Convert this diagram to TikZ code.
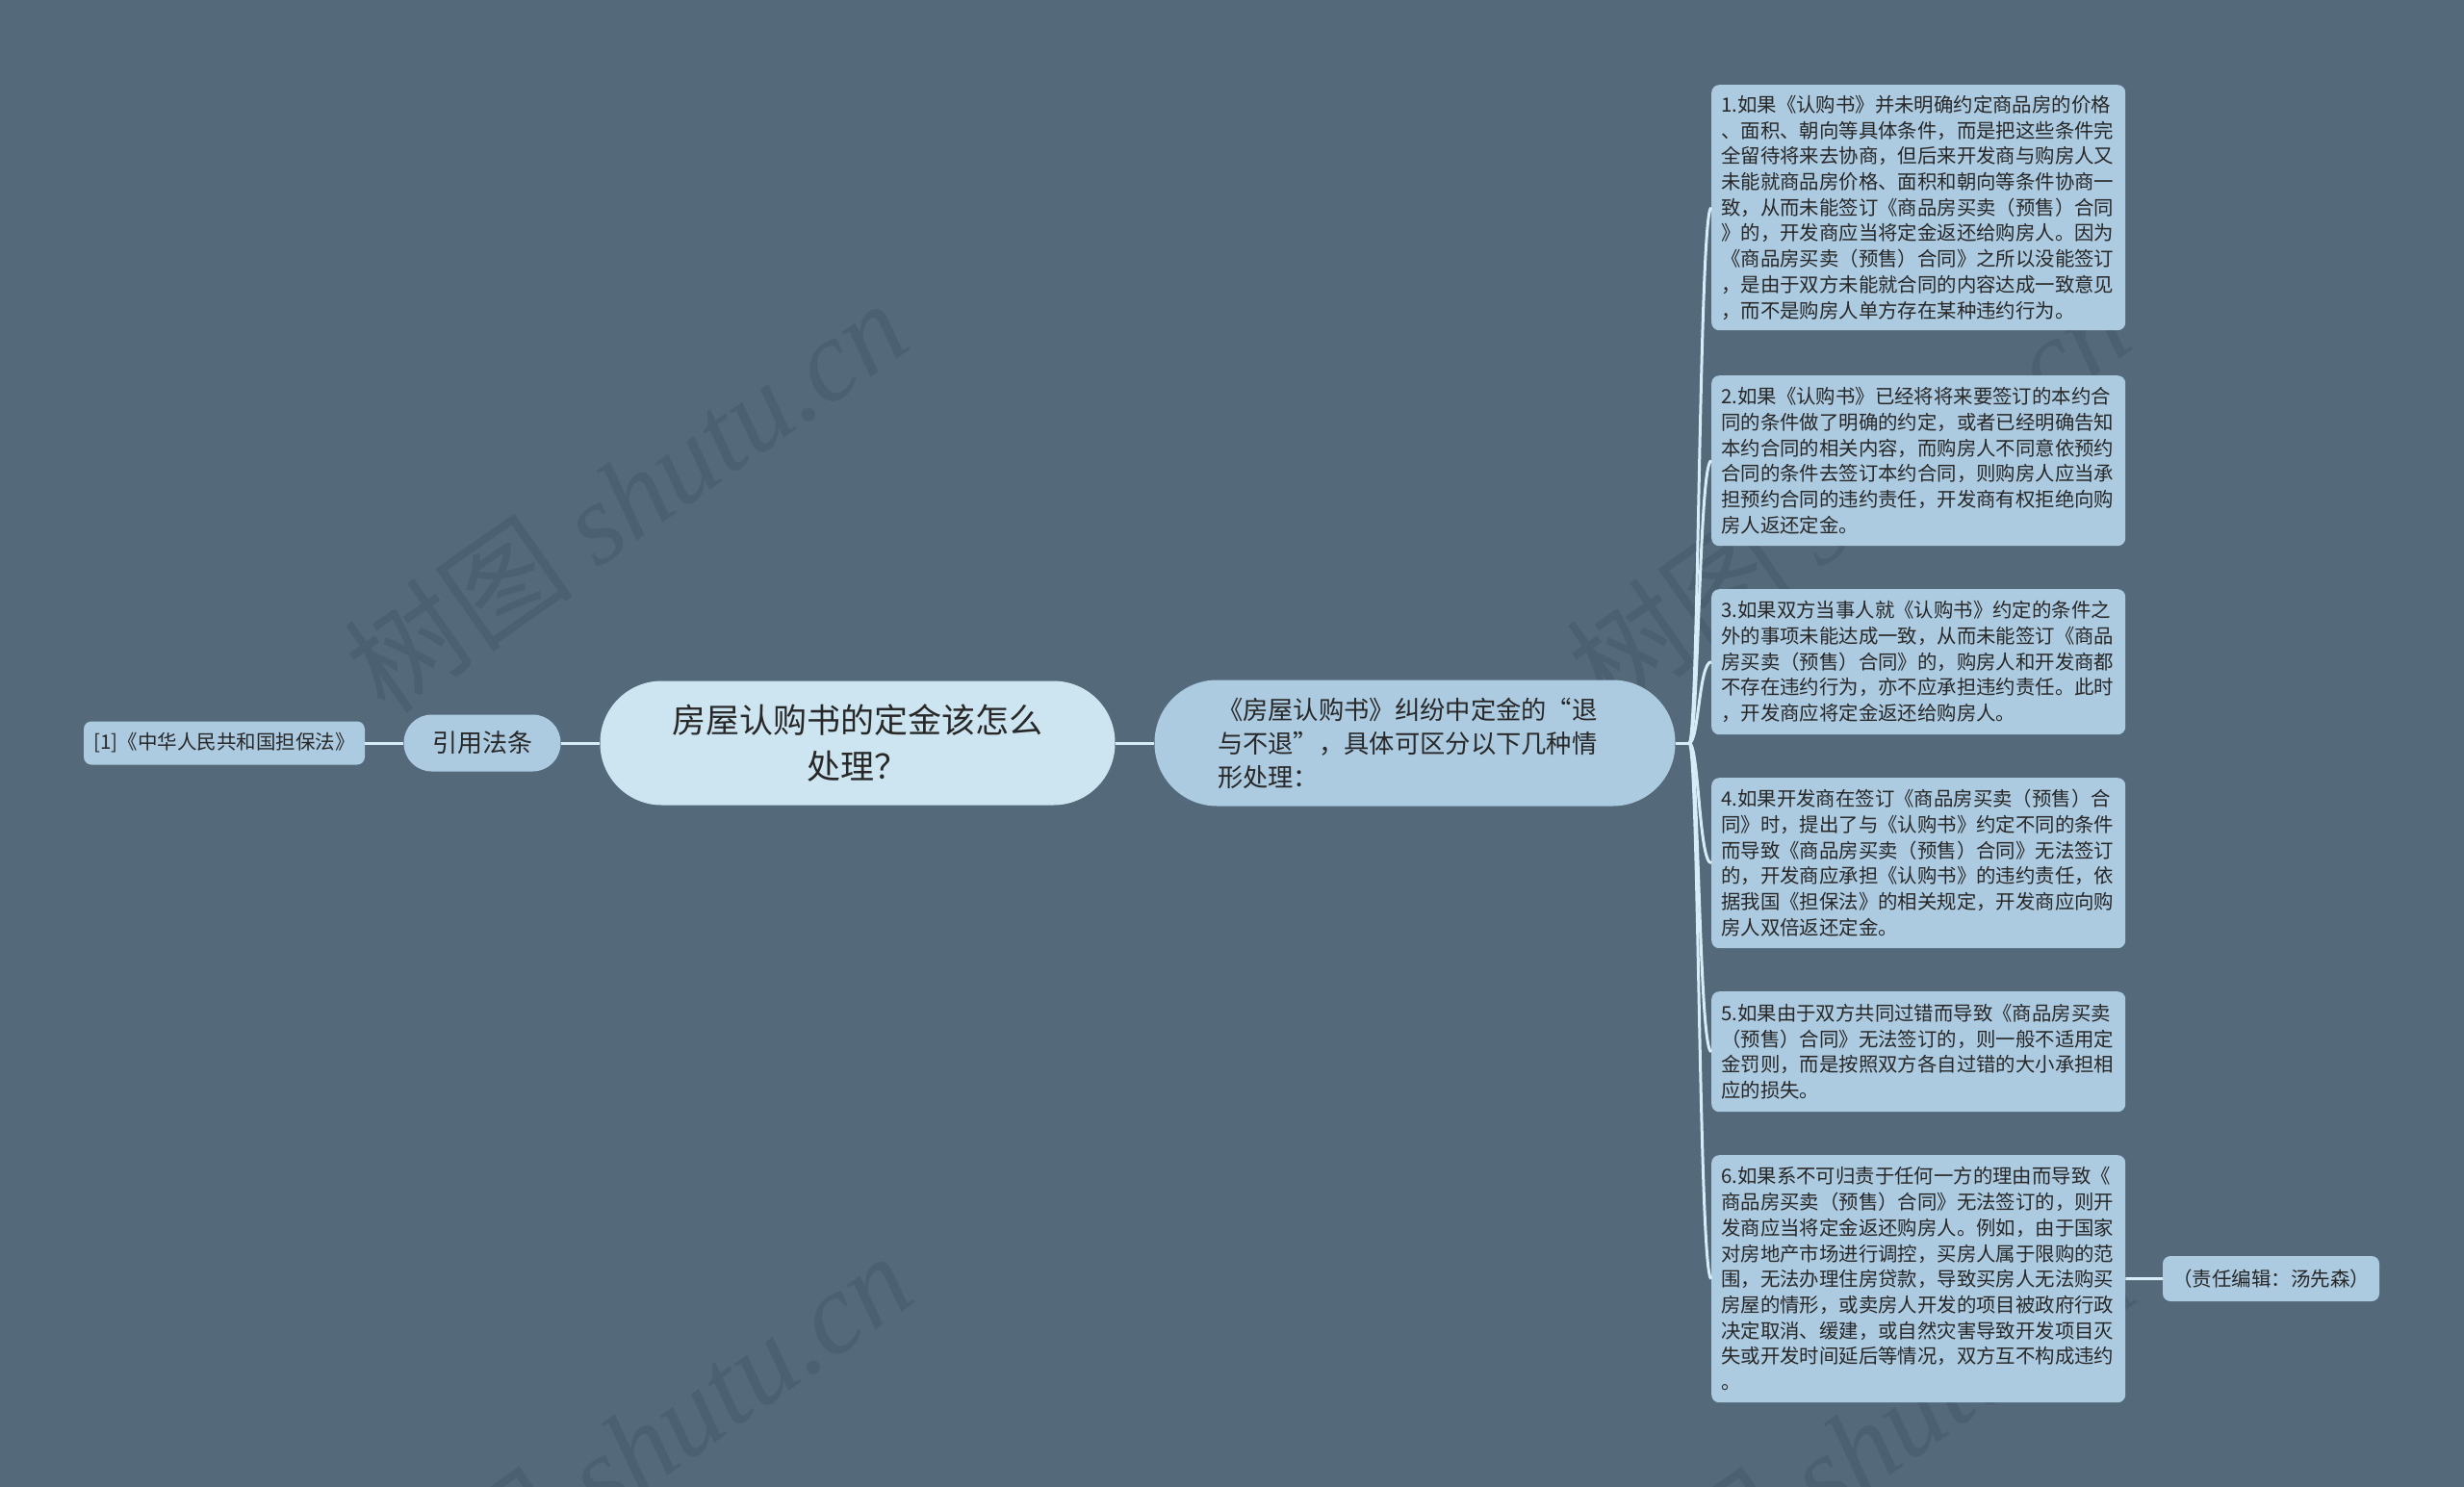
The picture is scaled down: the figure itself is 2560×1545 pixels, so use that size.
\documentclass[tikz,border=0pt]{standalone}
\usepackage{fontspec}
\setmainfont{Noto Sans CJK SC}
\newfontfamily\wmfont{Liberation Serif}
\definecolor{bgcol}{RGB}{84,106,122}
\definecolor{wmcol}{RGB}{75,96,112}
\definecolor{rootcol}{RGB}{205,229,241}
\definecolor{boxcol}{RGB}{172,202,224}
\definecolor{linecol}{RGB}{214,236,246}
\definecolor{txtcol}{RGB}{40,40,40}
\begin{document}
\begin{tikzpicture}[x=1pt,y=-1pt,
	every node/.style={text=txtcol,inner sep=0pt},
	root/.style={fill=rootcol,rounded corners=64pt,minimum width=535pt,minimum height=129pt,align=center,font=\fontsize{35}{48}\selectfont},
	topic/.style={fill=boxcol,rounded corners=65pt,minimum width=541pt,minimum height=131pt,text width=410pt,align=left,font=\fontsize{26.3}{35}\selectfont},
	tag/.style={fill=boxcol,rounded corners=29pt,minimum width=163pt,minimum height=59pt,font=\fontsize{26}{30}\selectfont},
	leaf/.style={fill=boxcol,rounded corners=8pt,anchor=north west,inner xsep=10pt,text width=410pt,align=left,font=\fontsize{20.4}{26.7}\selectfont},
	note/.style={fill=boxcol,rounded corners=8pt,font=\fontsize{20.5}{24}\selectfont},
	link/.style={draw=linecol,line width=3pt},
	wm/.style={text=wmcol,rotate=35,font=\fontsize{120}{120}\selectfont}]
	\useasboundingbox (0,0) rectangle (2560,1545);
	\fill[bgcol] (0,0) rectangle (2560,1545);
	\begin{scope}
	\clip (0,0) rectangle (2560,1545);
	\foreach \wx/\wy in {650/515,1920/515,655/1505,1925/1505}
		\node[wm] at (\wx,\wy) {树图 {\wmfont\itshape shutu.cn}};
	\end{scope}

	\node[root] (root) at (891,772) {房屋认购书的定金该怎么\\处理？};
	\node[topic] (topic) at (1470,772) {《房屋认购书》纠纷中定金的“退\\与不退”，具体可区分以下几种情\\形处理：};
	\node[tag] (cite) at (501,772) {引用法条};
	\node[note,minimum width=292pt,minimum height=45pt] (law) at (233,772) {[1]《中华人民共和国担保法》};

	\node[leaf,minimum height=255pt] (c1) at (1778,88) {1.如果《认购书》并未明确约定商品房的价格\\、面积、朝向等具体条件，而是把这些条件完\\全留待将来去协商，但后来开发商与购房人又\\未能就商品房价格、面积和朝向等条件协商一\\致，从而未能签订《商品房买卖（预售）合同\\》的，开发商应当将定金返还给购房人。因为\\《商品房买卖（预售）合同》之所以没能签订\\，是由于双方未能就合同的内容达成一致意见\\，而不是购房人单方存在某种违约行为。};
	\node[leaf,minimum height=177pt] (c2) at (1778,390) {2.如果《认购书》已经将将来要签订的本约合\\同的条件做了明确的约定，或者已经明确告知\\本约合同的相关内容，而购房人不同意依预约\\合同的条件去签订本约合同，则购房人应当承\\担预约合同的违约责任，开发商有权拒绝向购\\房人返还定金。};
	\node[leaf,minimum height=151pt] (c3) at (1778,612) {3.如果双方当事人就《认购书》约定的条件之\\外的事项未能达成一致，从而未能签订《商品\\房买卖（预售）合同》的，购房人和开发商都\\不存在违约行为，亦不应承担违约责任。此时\\，开发商应将定金返还给购房人。};
	\node[leaf,minimum height=177pt] (c4) at (1778,808) {4.如果开发商在签订《商品房买卖（预售）合\\同》时，提出了与《认购书》约定不同的条件\\而导致《商品房买卖（预售）合同》无法签订\\的，开发商应承担《认购书》的违约责任，依\\据我国《担保法》的相关规定，开发商应向购\\房人双倍返还定金。};
	\node[leaf,minimum height=125pt] (c5) at (1778,1030) {5.如果由于双方共同过错而导致《商品房买卖\\（预售）合同》无法签订的，则一般不适用定\\金罚则，而是按照双方各自过错的大小承担相\\应的损失。};
	\node[leaf,minimum height=257pt] (c6) at (1778,1200) {6.如果系不可归责于任何一方的理由而导致《\\商品房买卖（预售）合同》无法签订的，则开\\发商应当将定金返还购房人。例如，由于国家\\对房地产市场进行调控，买房人属于限购的范\\围，无法办理住房贷款，导致买房人无法购买\\房屋的情形，或卖房人开发的项目被政府行政\\决定取消、缓建，或自然灾害导致开发项目灭\\失或开发时间延后等情况，双方互不构成违约\\。};
	\node[note,minimum width=225pt,minimum height=47pt] (editor) at (2359.5,1328.5) {（责任编辑：汤先森）};

	\coordinate (split) at (1755,772);
	\draw[link] (law)--(cite)--(root)--(topic);
	\draw[link] (topic.east)--(split);
	\foreach \c in {c1,c2,c3,c4,c5,c6}
		\draw[link] (split) .. controls +(10,0) and +(-13,0) .. (\c.west);
	\draw[link] (c6.east)--(editor.west);
\end{tikzpicture}
\end{document}
